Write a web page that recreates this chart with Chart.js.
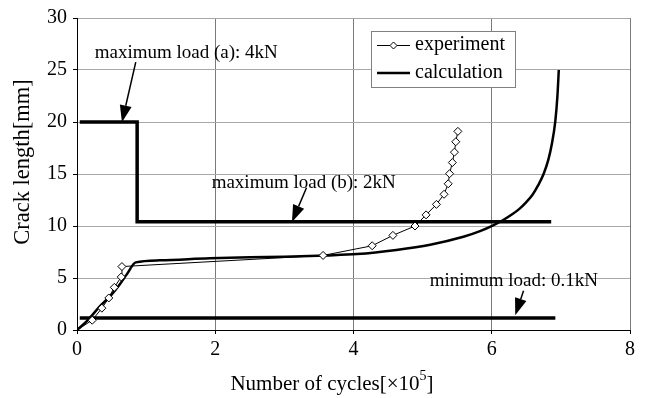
<!DOCTYPE html>
<html>
<head>
<meta charset="utf-8">
<script src="https://cdn.jsdelivr.net/npm/chart.js@4.4.0/dist/chart.umd.min.js"></script>
<style>
  html, body { margin: 0; padding: 0; background: #fff; }
  #wrap { width: 648px; height: 398px; }
</style>
</head>
<body>
<div id="wrap"><canvas id="chart"></canvas></div>
<script>
// crack growth: cycles [x10^5] vs crack length [mm]
const expCycles = [0, 0.22, 0.36, 0.46, 0.54, 0.64, 0.65, 3.56, 4.27, 4.57, 4.89, 5.05, 5.2, 5.31, 5.37, 5.39, 5.43, 5.46, 5.48, 5.51];
const expLength = [0, 0.94, 2.1, 3.08, 4.1, 5.1, 6.1, 7.17, 8.1, 9.1, 10.0, 11.07, 12.08, 13.05, 14.06, 15.03, 16.1, 17.1, 18.1, 19.1];

const calcCycles = [0, 0.15, 0.32, 0.5, 0.62, 0.72, 0.85, 1.2, 1.92, 2.5, 3.0, 3.6, 4.05, 4.62, 5.11, 5.59, 5.83, 6.02, 6.16, 6.29, 6.4, 6.5, 6.59, 6.67, 6.75, 6.82, 6.87, 6.92, 6.95, 6.97];
const calcLength = [0, 0.9, 2.2, 3.4, 4.4, 5.35, 6.5, 6.7, 6.9, 7.0, 7.05, 7.17, 7.3, 7.7, 8.2, 8.96, 9.5, 10.06, 10.55, 11.1, 11.65, 12.3, 13.0, 13.9, 15.0, 16.4, 17.9, 20.1, 22.5, 25];

// load level lines (maximum load a -> b, minimum load)
const maxLoadCycles = [0.04, 0.87, 0.87, 6.86];
const maxLoadLength = [20, 20, 10.4, 10.4];
const minLoadCycles = [0.04, 6.92];
const minLoadLength = [1.15, 1.15];

const xTicks = [0, 2, 4, 6, 8];
const yTicks = [0, 5, 10, 15, 20, 25, 30];

const seriesNames = ["experiment", "calculation"];
const noteTexts = ["maximum load (a): 4kN", "maximum load (b): 2kN", "minimum load: 0.1kN"];
// note anchor: text centre, arrow tail, arrow tip (data units)
const noteAnchors = [
  [1.58, 26.6, 0.85, 25.75, 0.65, 19.97],
  [3.28, 14.15, 3.32, 13.68, 3.11, 10.38],
  [6.32, 4.72, 6.46, 3.77, 6.34, 1.42]
];

const SERIF = "'Liberation Serif', 'Times New Roman', serif";

function pts(xs, ys) {
  return xs.map((x, i) => ({ x: x, y: ys[i] }));
}

const notesPlugin = {
  id: "notes",
  afterDatasetsDraw(chart) {
    const { ctx, scales } = chart;
    const sx = scales.x, sy = scales.y;
    ctx.save();
    ctx.fillStyle = "#000";
    ctx.strokeStyle = "#000";
    ctx.font = "19px " + SERIF;
    ctx.textAlign = "center";
    ctx.textBaseline = "middle";
    noteTexts.forEach((t, i) => {
      const a = noteAnchors[i];
      const tx = sx.getPixelForValue(a[0]), ty = sy.getPixelForValue(a[1]);
      const x0 = sx.getPixelForValue(a[2]), y0 = sy.getPixelForValue(a[3]);
      const x1 = sx.getPixelForValue(a[4]), y1 = sy.getPixelForValue(a[5]);
      ctx.fillText(t, tx, ty);
      const ang = Math.atan2(y1 - y0, x1 - x0);
      const hl = 17, hw = 6;
      const bx = x1 - hl * Math.cos(ang), by = y1 - hl * Math.sin(ang);
      ctx.lineWidth = 1.5;
      ctx.beginPath();
      ctx.moveTo(x0, y0);
      ctx.lineTo(bx, by);
      ctx.stroke();
      ctx.beginPath();
      ctx.moveTo(x1, y1);
      ctx.lineTo(bx + hw * Math.sin(ang), by - hw * Math.cos(ang));
      ctx.lineTo(bx - hw * Math.sin(ang), by + hw * Math.cos(ang));
      ctx.closePath();
      ctx.fill();
    });
    ctx.restore();
  }
};

const legendPlugin = {
  id: "boxLegend",
  afterDraw(chart) {
    const ctx = chart.ctx;
    const x = 371, y = 31, w = 144, h = 56;
    ctx.save();
    ctx.fillStyle = "#fff";
    ctx.fillRect(x, y, w, h);
    ctx.strokeStyle = "#808080";
    ctx.lineWidth = 1;
    ctx.strokeRect(x + 0.5, y + 0.5, w, h);
    // experiment sample
    ctx.strokeStyle = "#000";
    ctx.lineWidth = 1;
    ctx.beginPath();
    ctx.moveTo(377, 45.5);
    ctx.lineTo(410, 45.5);
    ctx.stroke();
    ctx.fillStyle = "#fff";
    ctx.beginPath();
    ctx.moveTo(393.5, 42);
    ctx.lineTo(397, 45.5);
    ctx.lineTo(393.5, 49);
    ctx.lineTo(390, 45.5);
    ctx.closePath();
    ctx.fill();
    ctx.stroke();
    // calculation sample
    ctx.lineWidth = 2.5;
    ctx.beginPath();
    ctx.moveTo(377, 73);
    ctx.lineTo(410, 73);
    ctx.stroke();
    ctx.fillStyle = "#000";
    ctx.font = "20px " + SERIF;
    ctx.textAlign = "left";
    ctx.textBaseline = "middle";
    ctx.fillText(seriesNames[0], 415, 45);
    ctx.fillText(seriesNames[1], 415, 73);
    ctx.restore();
  }
};

const titlesPlugin = {
  id: "axisTitles",
  afterDraw(chart) {
    const ctx = chart.ctx;
    ctx.save();
    ctx.fillStyle = "#000";
    ctx.textBaseline = "middle";
    // x title with superscript 5
    const a = "Number of cycles[\u00d710", b = "5", c = "]";
    ctx.font = "21px " + SERIF;
    const wa = ctx.measureText(a).width;
    ctx.font = "14px " + SERIF;
    const wb = ctx.measureText(b).width;
    ctx.font = "21px " + SERIF;
    const wc = ctx.measureText(c).width;
    let x = 332 - (wa + wb + wc) / 2;
    ctx.textAlign = "left";
    ctx.fillText(a, x, 384);
    ctx.font = "14px " + SERIF;
    ctx.fillText(b, x + wa, 376);
    ctx.font = "21px " + SERIF;
    ctx.fillText(c, x + wa + wb, 384);
    // y title
    ctx.font = "22.5px " + SERIF;
    ctx.translate(23, 162);
    ctx.rotate(-Math.PI / 2);
    ctx.textAlign = "center";
    ctx.fillText("Crack length[mm]", 0, 0);
    ctx.restore();
  }
};

new Chart(document.getElementById("chart"), {
  type: "scatter",
  data: {
    datasets: [
      {
        label: seriesNames[0],
        data: pts(expCycles, expLength),
        showLine: true,
        borderColor: "#000",
        borderWidth: 1,
        pointStyle: "rectRot",
        pointRadius: expCycles.map((v, i) => (i === 0 ? 0 : 4)),
        pointBackgroundColor: "#fff",
        pointBorderColor: "#000",
        pointBorderWidth: 1,
        order: 0
      },
      {
        label: seriesNames[1],
        data: pts(calcCycles, calcLength),
        showLine: true,
        borderColor: "#000",
        borderWidth: 2.5,
        pointRadius: 0,
        cubicInterpolationMode: "monotone",
        order: 1
      },
      {
        label: "max load",
        data: pts(maxLoadCycles, maxLoadLength),
        showLine: true,
        borderColor: "#000",
        borderWidth: 3.5,
        pointRadius: 0,
        borderJoinStyle: "miter",
        order: 2
      },
      {
        label: "min load",
        data: pts(minLoadCycles, minLoadLength),
        showLine: true,
        borderColor: "#000",
        borderWidth: 3.5,
        pointRadius: 0,
        order: 2
      }
    ]
  },
  options: {
    responsive: true,
    maintainAspectRatio: false,
    animation: false,
    layout: { padding: { left: 0, top: 12, right: 18, bottom: 0 } },
    plugins: {
      legend: { display: false },
      tooltip: { enabled: false }
    },
    scales: {
      x: {
        type: "linear",
        min: 0,
        max: 8,
        afterBuildTicks: (s) => { s.ticks = xTicks.map(v => ({ value: v })); },
        afterFit: (s) => { s.height = 68; },
        ticks: { color: "#000", font: { family: SERIF, size: 20 }, padding: 4 },
        grid: { color: "#7a7a7a", lineWidth: 1, tickLength: 4, tickColor: "#000" },
        border: { color: "#000", width: 1 }
      },
      y: {
        type: "linear",
        min: 0,
        max: 30,
        afterBuildTicks: (s) => { s.ticks = yTicks.map(v => ({ value: v })); },
        afterFit: (s) => { s.width = 77; },
        ticks: { color: "#000", font: { family: SERIF, size: 20 }, padding: 6 },
        grid: { color: "#a8a8a8", lineWidth: 1, tickLength: 4, tickColor: "#000" },
        border: { color: "#000", width: 1 }
      }
    }
  },
  plugins: [notesPlugin, legendPlugin, titlesPlugin]
});
</script>
</body>
</html>
